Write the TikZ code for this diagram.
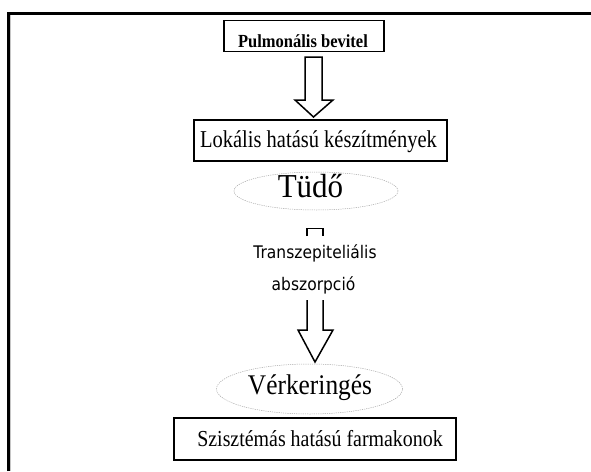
\documentclass[tikz,border=0pt]{standalone}
\usepackage{fontspec}
\setmainfont{Liberation Serif}
\newfontfamily\comicfont{DejaVu Sans}
\usetikzlibrary{shapes.geometric}
\begin{document}
\begin{tikzpicture}[x=1pt,y=-1pt,
  boxst/.style={draw=black,line width=1.6pt,inner sep=0pt,fill=white},
  ellst/.style={ellipse,draw=gray!70,line width=0.5pt,dash pattern=on 1.2pt off 1pt,inner sep=0pt},
  hollow/.style={draw=black,line width=1.5pt,line join=miter,fill=white},
  txt/.style={inner sep=0pt,anchor=base}]
\useasboundingbox (0,0) rectangle (591,471);
% frame
\draw[gray!45,line width=1pt] (10.8,15) -- (10.8,471);
\draw[line width=3pt] (8,471) -- (8,13) -- (591,13);
% boxes
\node[boxst,minimum width=160,minimum height=31] (pul) at (304,36) {};
\node[txt,font=\fontsize{16.5}{18}\selectfont\bfseries] (pult) at (303,47) {\scalebox{1}[1.12]{Pulmonális bevitel}};
\node[boxst,minimum width=253,minimum height=41] (lok) at (320.5,140.5) {};
\node[txt,font=\fontsize{20.5}{24}\selectfont] (lokt) at (318.5,147) {\scalebox{1}[1.18]{Lokális hatású készítmények}};
\node[ellst,minimum width=164,minimum height=38] (tud) at (316,191) {};
\node[txt,font=\fontsize{31}{34}\selectfont] (tudt) at (310.5,197) {\scalebox{1}[1.08]{Tüdő}};
\node[txt,font=\comicfont\fontsize{15.5}{18}\selectfont] (tra) at (315,258) {\scalebox{1}[1.12]{Transzepiteliális}};
\node[txt,font=\comicfont\fontsize{15.5}{18}\selectfont] (abs) at (313.5,290) {\scalebox{1}[1.12]{abszorpció}};
\node[ellst,minimum width=186,minimum height=50] (ver) at (309.5,389) {};
\node[txt,font=\fontsize{25.4}{30}\selectfont] (vert) at (310,394) {\scalebox{1}[1.12]{Vérkeringés}};
\node[boxst,minimum width=282,minimum height=42] (szi) at (315,439) {};
\node[txt,font=\fontsize{19.9}{23}\selectfont] (szit) at (320,446) {\scalebox{1}[1.15]{Szisztémás hatású farmakonok}};
% arrow 1
\draw[hollow] (305,57) -- (322,57) -- (322,100) -- (333,100) -- (313.5,117) -- (295,100) -- (305,100) -- cycle;
% bracket above text
\draw[line width=1.5pt] (307,236) -- (307,228.5) -- (323,228.5) -- (323,236);
% arrow 2
\draw[hollow,fill=none] (307,300) -- (307,330) -- (298,330) -- (315,362) -- (333,330) -- (323,330) -- (323,300);
\end{tikzpicture}
\end{document}
